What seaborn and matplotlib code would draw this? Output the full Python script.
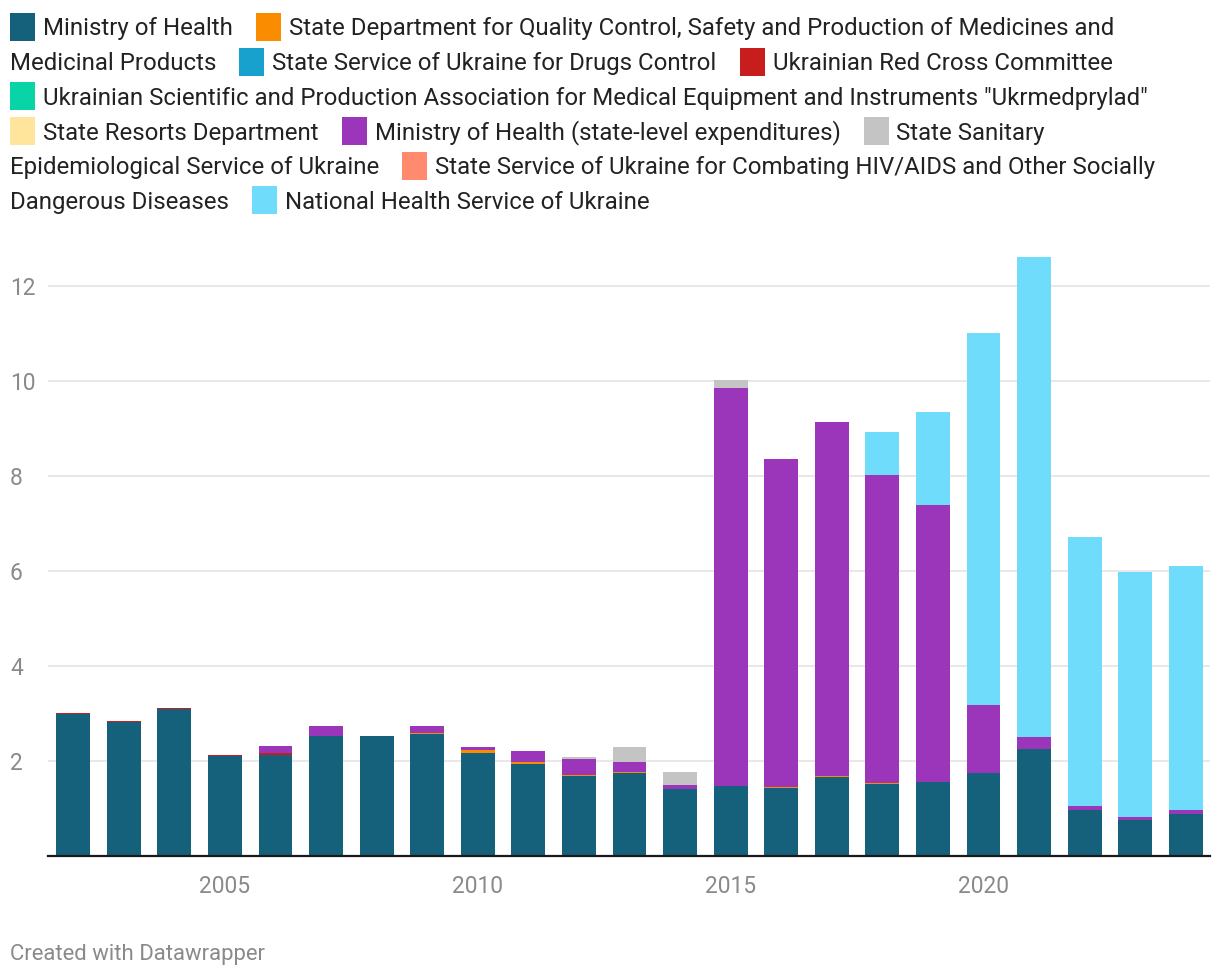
import numpy as np
import pandas as pd
import matplotlib
matplotlib.use("Agg")
import matplotlib.pyplot as plt
import seaborn as sns
from matplotlib.patches import Rectangle

# ---------------- data ----------------
years = list(range(2002, 2025))

series_names = [
    "Ministry of Health",
    "State Department for Quality Control, Safety and Production of Medicines and Medicinal Products",
    "State Service of Ukraine for Drugs Control",
    "Ukrainian Red Cross Committee",
    'Ukrainian Scientific and Production Association for Medical Equipment and Instruments "Ukrmedprylad"',
    "State Resorts Department",
    "Ministry of Health (state-level expenditures)",
    "State Sanitary Epidemiological Service of Ukraine",
    "State Service of Ukraine for Combating HIV/AIDS and Other Socially Dangerous Diseases",
    "National Health Service of Ukraine",
]

series_colors = ["#15607a", "#fa8c00", "#18a1cd", "#c71e1d", "#09d4a5",
                 "#ffe59c", "#9b35b9", "#c4c4c4", "#ff8a6e", "#6fdcfc"]

moh = [2.98, 2.82, 3.09, 2.11, 2.13, 2.53, 2.53, 2.57, 2.17, 1.94, 1.68, 1.75,
       1.41, 1.47, 1.43, 1.66, 1.52, 1.56, 1.75, 2.25, 0.97, 0.76, 0.89]
quality = [0, 0, 0, 0, 0, 0, 0, 0.02, 0.06, 0.04, 0.02, 0.02,
           0, 0, 0.02, 0.02, 0.02, 0, 0, 0, 0, 0, 0]
drugs = [0] * 23
red_cross = [0.02, 0.02, 0.03, 0.02, 0.03, 0, 0, 0, 0, 0, 0, 0,
             0, 0, 0, 0, 0, 0, 0, 0, 0, 0, 0]
ukrmedprylad = [0] * 23
resorts = [0] * 23
moh_state = [0, 0, 0, 0, 0.145, 0.21, 0, 0.15, 0.06, 0.23, 0.34, 0.21,
             0.08, 8.38, 6.91, 7.46, 6.48, 5.83, 1.43, 0.26, 0.08, 0.06, 0.08]
sanitary = [0, 0, 0, 0, 0, 0, 0, 0, 0, 0, 0.04, 0.32,
            0.28, 0.17, 0, 0, 0, 0, 0, 0, 0, 0, 0]
hiv = [0] * 23
nhsu = [0, 0, 0, 0, 0, 0, 0, 0, 0, 0, 0, 0,
        0, 0, 0, 0, 0.91, 1.96, 7.83, 10.10, 5.67, 5.16, 5.14]

series_values = [moh, quality, drugs, red_cross, ukrmedprylad, resorts,
                 moh_state, sanitary, hiv, nhsu]

tick_years = [2005, 2010, 2015, 2020]
y_ticks = [2, 4, 6, 8, 10, 12]

# ---------------- style ----------------
sns.set_style("white")
plt.rcParams['font.family'] = ['Roboto', 'DejaVu Sans']

W, H = 1220, 980
fig = plt.figure(figsize=(W / 100, H / 100), dpi=100)
ax = fig.add_axes([48 / W, (H - 856) / H, (1210 - 48) / W, (856 - 255) / H])

# stacked bars: draw cumulative totals from the top layer down
cums = []
running = np.zeros(len(years))
for vals in series_values:
    running = running + np.asarray(vals, dtype=float)
    cums.append(running.copy())

for color, c in reversed(list(zip(series_colors, cums))):
    df = pd.DataFrame({"year": years, "value": c})
    sns.barplot(data=df, x="year", y="value", order=years, color=color,
                width=0.67, saturation=1, errorbar=None, linewidth=0, ax=ax)

ax.set_xlim(-0.5, len(years) - 0.52)
ax.set_ylim(0, 12.65)
ax.set_xlabel("")
ax.set_ylabel("")

ax.set_xticks([years.index(y) for y in tick_years])
ax.set_xticklabels([str(y) for y in tick_years])
ax.set_yticks(y_ticks)
ax.set_yticklabels([str(v) for v in y_ticks])
for lab in ax.get_yticklabels():
    lab.set_horizontalalignment("left")
ax.tick_params(axis="x", length=0, pad=14, labelsize=16.4, labelcolor="#8a8a8a")
ax.tick_params(axis="y", length=0, pad=27.4, labelsize=16.4, labelcolor="#8a8a8a")

ax.grid(axis="y", color="#e6e6e6", linewidth=1.3)
ax.grid(axis="x", visible=False)
ax.set_axisbelow(True)
for s in ["left", "right", "top"]:
    ax.spines[s].set_visible(False)
ax.spines["bottom"].set_color("#1a1a1a")
ax.spines["bottom"].set_linewidth(1.6)
ax.spines["bottom"].set_zorder(5)

# ---------------- legend (flowing, datawrapper-like) ----------------
def split_after(s, marker):
    i = s.index(marker) + len(marker)
    return s[:i].strip(), s[i:].strip()

n1a, n1b = split_after(series_names[1], "Medicines and")
n7a, n7b = split_after(series_names[7], "State Sanitary")
n8a, n8b = split_after(series_names[8], "Other Socially")

legend_lines = [
    [(0, series_names[0]), (1, n1a)],
    [(None, n1b), (2, series_names[2]), (3, series_names[3])],
    [(4, series_names[4])],
    [(5, series_names[5]), (6, series_names[6]), (7, n7a)],
    [(None, n7b), (8, n8a)],
    [(None, n8b), (9, series_names[9])],
]

renderer = fig.canvas.get_renderer()
row0, row_step = 27.0, 34.7
fs = 17.25
for r, line in enumerate(legend_lines):
    yc = row0 + r * row_step
    x = 10.0
    for k, (ci, txt) in enumerate(line):
        if k > 0:
            x += 23
        if ci is not None:
            fig.patches.append(Rectangle((x / W, 1 - (yc + 14) / H), 25 / W, 28 / H,
                                         transform=fig.transFigure, facecolor=series_colors[ci],
                                         edgecolor="none"))
            x += 33
        t = fig.text(x / W, 1 - (yc + 8.4) / H, txt, fontsize=fs, color="#222222",
                     ha="left", va="baseline")
        bb = t.get_window_extent(renderer)
        x += bb.width

fig.text(10 / W, 1 - 954 / H, "Created with Datawrapper", fontsize=15.9,
         color="#8a8a8a", ha="left", va="center")

fig.savefig("out.png", dpi=100, facecolor="white")
